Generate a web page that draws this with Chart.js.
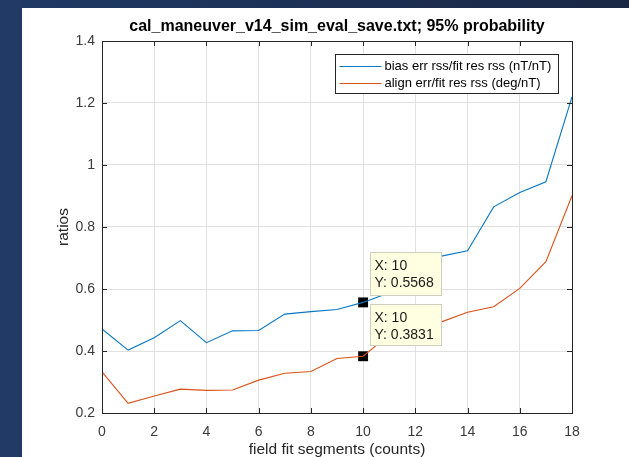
<!DOCTYPE html>
<html>
<head>
<meta charset="utf-8">
<script src="https://cdn.jsdelivr.net/npm/chart.js@4.4.1/dist/chart.umd.min.js"></script>
<style>
html,body{margin:0;padding:0;background:#fff;}
#wrap{width:629px;height:457px;position:relative;}
</style>
</head>
<body>
<div id="wrap"><canvas id="c" width="629" height="457"></canvas></div>
<script>
// ---- data ----
const titleText = "cal_maneuver_v14_sim_eval_save.txt; 95% probability";
const segments = [0,1,2,3,4,5,6,7,8,9,10,11,12,13,14,15,16,17,18];
const biasRatio = [0.471,0.403,0.443,0.498,0.427,0.465,0.466,0.519,0.527,0.534,0.5568,0.588,0.690,0.706,0.723,0.865,0.911,0.946,1.220];
const alignRatio = [0.333,0.231,0.255,0.277,0.273,0.274,0.306,0.328,0.334,0.376,0.3831,0.452,0.476,0.494,0.525,0.543,0.602,0.688,0.901];
const seriesNames = ["bias err rss/fit res rss (nT/nT)", "align err/fit res rss (deg/nT)"];
const tipX = [10, 10];
const tipY = [0.5568, 0.3831];
const xTicks = [0,2,4,6,8,10,12,14,16,18];
const yTicks = [0.2,0.4,0.6,0.8,1,1.2,1.4];
const xLabel = "field fit segments (counts)";
const yLabel = "ratios";

const BLUE = "#0a78c2", ORANGE = "#D95319", AX = "#262626", GRID = "#e1e1e1";
const FONT = "'Liberation Sans', Arial, Helvetica, sans-serif";

const toXY = (ys) => segments.map((x, i) => ({x: x, y: ys[i]}));

const decor = {
  id: 'decor',
  beforeDraw(chart) {
    const ctx = chart.ctx;
    ctx.save();
    ctx.fillStyle = '#ffffff';
    ctx.fillRect(0, 0, chart.width, chart.height);
    const g = ctx.createLinearGradient(0, 0, chart.width, 0);
    g.addColorStop(0, '#1f3a66');
    g.addColorStop(1, '#1a2744');
    ctx.fillStyle = g;
    ctx.fillRect(0, 0, chart.width, 8);
    ctx.fillStyle = '#213a66';
    ctx.fillRect(0, 0, 22, chart.height);
    ctx.restore();
  },
  afterDraw(chart) {
    const ctx = chart.ctx;
    const a = chart.chartArea;
    const xs = chart.scales.x, ys = chart.scales.y;
    ctx.save();
    // box
    ctx.strokeStyle = AX;
    ctx.lineWidth = 1;
    ctx.beginPath();
    ctx.moveTo(Math.round(a.left) + 0.5, Math.round(a.top) + 0.5);
    ctx.lineTo(Math.round(a.right) + 0.5, Math.round(a.top) + 0.5);
    ctx.lineTo(Math.round(a.right) + 0.5, Math.round(a.bottom) + 0.5);
    ctx.lineTo(Math.round(a.left) + 0.5, Math.round(a.bottom) + 0.5);
    ctx.closePath();
    ctx.stroke();
    // inward ticks
    ctx.beginPath();
    xTicks.forEach(v => {
      const px = Math.round(xs.getPixelForValue(v)) + 0.5;
      ctx.moveTo(px, a.bottom); ctx.lineTo(px, a.bottom - 5);
      ctx.moveTo(px, a.top); ctx.lineTo(px, a.top + 5);
    });
    yTicks.forEach(v => {
      const py = Math.round(ys.getPixelForValue(v)) + 0.5;
      ctx.moveTo(a.left, py); ctx.lineTo(a.left + 5, py);
      ctx.moveTo(a.right, py); ctx.lineTo(a.right - 5, py);
    });
    ctx.stroke();

    // title
    ctx.fillStyle = '#000';
    ctx.font = "bold 16px " + FONT;
    ctx.textAlign = 'center';
    ctx.textBaseline = 'middle';
    ctx.fillText(titleText, (a.left + a.right) / 2, 27);

    // legend
    const lx = 335.5, ly = 54.5, lw = 223, lh = 39;
    ctx.fillStyle = '#fff';
    ctx.fillRect(lx, ly, lw, lh);
    ctx.strokeStyle = AX;
    ctx.strokeRect(lx, ly, lw, lh);
    ctx.font = "13px " + FONT;
    ctx.textAlign = 'left';
    ctx.textBaseline = 'middle';
    const colors = [BLUE, ORANGE];
    seriesNames.forEach((name, i) => {
      const yy = ly + 11.5 + i * 17;
      ctx.strokeStyle = colors[i];
      ctx.beginPath();
      ctx.moveTo(lx + 4, Math.round(yy) + 0.5);
      ctx.lineTo(lx + 46, Math.round(yy) + 0.5);
      ctx.stroke();
      ctx.fillStyle = '#000';
      ctx.fillText(name, lx + 49, yy + 0.5);
    });

    // data tips
    const tipH = [43, 41];
    const tipGap = [7, 11];
    for (let i = 0; i < tipX.length; i++) {
      const mx = xs.getPixelForValue(tipX[i]);
      const my = ys.getPixelForValue(tipY[i]);
      const bx = Math.round(mx + 7) + 0.5;
      const bottom = Math.round(my - tipGap[i]) + 0.5;
      const top = bottom - tipH[i];
      const bw = 71;
      ctx.fillStyle = '#ffffe1';
      ctx.fillRect(bx, top, bw, tipH[i]);
      ctx.strokeStyle = '#cfcfc0';
      ctx.strokeRect(bx, top, bw, tipH[i]);
      ctx.fillStyle = '#1a1a1a';
      ctx.font = "14px " + FONT;
      ctx.textAlign = 'left';
      ctx.textBaseline = 'middle';
      ctx.fillText("X: " + tipX[i], bx + 4, top + 13.5);
      ctx.fillText("Y: " + tipY[i].toFixed(4), bx + 4, top + 30.5);
    }
    ctx.restore();
  }
};

new Chart(document.getElementById('c'), {
  type: 'line',
  data: {
    datasets: [
      {label: seriesNames[0], data: toXY(biasRatio), borderColor: BLUE, borderWidth: 1.1, pointRadius: 0, tension: 0, fill: false},
      {label: seriesNames[1], data: toXY(alignRatio), borderColor: ORANGE, borderWidth: 1.1, pointRadius: 0, tension: 0, fill: false},
      {label: 'tips', type: 'scatter', data: tipX.map((x, i) => ({x: x, y: tipY[i]})), pointStyle: 'rect', pointRadius: 7, backgroundColor: '#000', borderColor: '#000', borderWidth: 0}
    ]
  },
  options: {
    responsive: false,
    animation: false,
    devicePixelRatio: 1,
    layout: {padding: {left: 22, right: 57, top: 41, bottom: -2}},
    plugins: {legend: {display: false}, tooltip: {enabled: false}, title: {display: false}},
    scales: {
      x: {
        type: 'linear', min: 0, max: 18,
        afterBuildTicks: (s) => { s.ticks = xTicks.map(v => ({value: v})); },
        afterFit: (s) => { s.height = 46; },
        grid: {color: GRID, drawTicks: false, lineWidth: 1},
        border: {color: AX},
        ticks: {color: '#3a3a3a', font: {family: FONT, size: 14}, padding: 11, maxRotation: 0, callback: (v) => String(v)},
        title: {display: true, text: xLabel, color: '#262626', font: {family: FONT, size: 15.5}, padding: {top: 0, bottom: 0}}
      },
      y: {
        type: 'linear', min: 0.2, max: 1.4,
        afterBuildTicks: (s) => { s.ticks = yTicks.map(v => ({value: v})); },
        afterFit: (s) => { s.width = 80; },
        grid: {color: GRID, drawTicks: false, lineWidth: 1},
        border: {color: AX},
        ticks: {color: '#3a3a3a', font: {family: FONT, size: 14}, padding: 7, callback: (v) => String(+v.toFixed(1))},
        title: {display: true, text: yLabel, color: '#262626', font: {family: FONT, size: 15.5}, padding: {top: 32, bottom: 0}}
      }
    }
  },
  plugins: [decor]
});
</script>
</body>
</html>
